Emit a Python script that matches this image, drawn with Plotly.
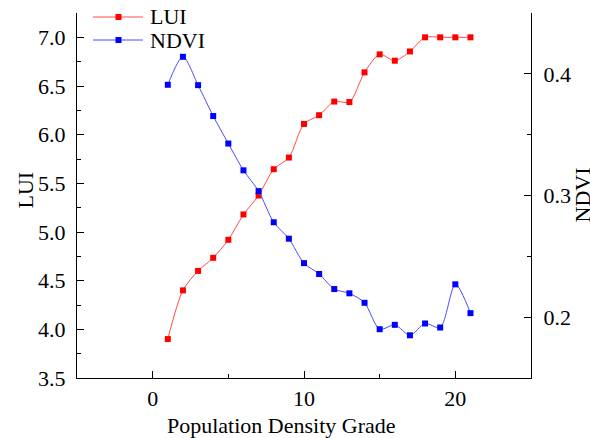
import plotly.graph_objects as go

# Population density grades 1..21
grade = list(range(1, 22))

# Land use intensity per grade (left axis)
lui = [3.90, 4.40, 4.60, 4.735, 4.92, 5.18, 5.375, 5.645, 5.765, 6.11, 6.20,
       6.34, 6.335, 6.64, 6.825, 6.76, 6.855, 7.00, 7.00, 7.00, 7.00]

# Mean NDVI per grade (right axis)
ndvi = [0.391, 0.414, 0.3907, 0.3653, 0.3427, 0.3207, 0.3036, 0.278, 0.2645,
        0.2444, 0.2355, 0.2231, 0.2196, 0.2118, 0.1901, 0.1937, 0.1851, 0.1948,
        0.1915, 0.227, 0.2033]

FONT = "Liberation Serif"
FS = 22
W, H = 590, 438
ML, MR, MT, MB = 77, 59, 13, 60
PW, PH = W - ML - MR, H - MT - MB


def px(x):
    """Pixel column -> paper x."""
    return (x - ML) / PW


def py(y):
    """Pixel row -> paper y."""
    return (H - MB - y) / PH


series = [
    ("LUI", lui, "y", "#ff0000", "#ff4a4a"),
    ("NDVI", ndvi, "y2", "#0000ff", "#4a4aff"),
]

fig = go.Figure()
for name, vals, yax, mcol, lcol in series:
    fig.add_trace(go.Scatter(
        x=grade, y=vals, name=name, mode="lines+markers",
        line=dict(color=lcol, width=1, shape="spline", smoothing=0.8),
        marker=dict(symbol="square", size=6, color=mcol),
        yaxis=yax, showlegend=False,
    ))

# Legend drawn in the top-left corner: sample line, square marker, label
shapes, annotations = [], []
for i, (name, _, _, mcol, lcol) in enumerate(series):
    yrow = 17 + 23 * i
    shapes.append(dict(type="line", xref="paper", yref="paper",
                       x0=px(93), x1=px(143), y0=py(yrow), y1=py(yrow),
                       line=dict(color=lcol, width=1)))
    shapes.append(dict(type="rect", xref="paper", yref="paper",
                       x0=px(115.5), x1=px(121.5), y0=py(yrow - 3), y1=py(yrow + 3),
                       line=dict(width=0), fillcolor=mcol))
    annotations.append(dict(text=name, xref="paper", yref="paper",
                            x=px(148), y=py(yrow), xanchor="left", yanchor="middle",
                            showarrow=False, font=dict(family=FONT, size=FS)))

axis_common = dict(
    showline=True, linecolor="black", linewidth=1.3, mirror=False,
    ticks="inside", ticklen=7, tickwidth=1, tickcolor="black",
    showgrid=False, zeroline=False,
    tickfont=dict(family=FONT, size=FS, color="black"),
)

annotations += [
    dict(text="LUI", xref="paper", yref="paper", x=0, y=0.5,
         xanchor="center", yanchor="middle", xshift=-52, yshift=5,
         textangle=-90, showarrow=False, font=dict(family=FONT, size=FS)),
    dict(text="NDVI", xref="paper", yref="paper", x=1, y=0.5,
         xanchor="center", yanchor="middle", xshift=51, yshift=0,
         textangle=-90, showarrow=False, font=dict(family=FONT, size=FS)),
    dict(text="Population Density Grade", xref="paper", yref="paper",
         x=0.5, y=0, xanchor="center", yanchor="middle", xshift=-23,
         yshift=-47, showarrow=False, font=dict(family=FONT, size=FS)),
]

fig.update_layout(
    width=W, height=H,
    margin=dict(l=ML, r=MR, t=MT, b=MB, autoexpand=False),
    paper_bgcolor="white", plot_bgcolor="white",
    font=dict(family=FONT, size=FS, color="black"),
    showlegend=False,
    xaxis=dict(range=[-5, 25], tickvals=[0, 10, 20], ticklabelstandoff=0,
               minor=dict(tickvals=[-5, 5, 15, 25], ticks="inside", ticklen=4,
                          tickcolor="black"),
               **axis_common),
    yaxis=dict(range=[3.5, 7.25], dtick=0.5, tick0=3.5, tickformat=".1f",
               ticklabelstandoff=6,
               minor=dict(dtick=0.25, ticks="inside", ticklen=4, tickcolor="black"),
               **axis_common),
    yaxis2=dict(range=[0.15, 0.45], tickvals=[0.2, 0.3, 0.4], tickformat=".1f",
                overlaying="y", side="right", ticklabelstandoff=7,
                minor=dict(tickvals=[0.15, 0.25, 0.35, 0.45], ticks="inside",
                           ticklen=4, tickcolor="black"),
                **axis_common),
    shapes=shapes,
    annotations=annotations,
)

fig.write_html("out.html")
